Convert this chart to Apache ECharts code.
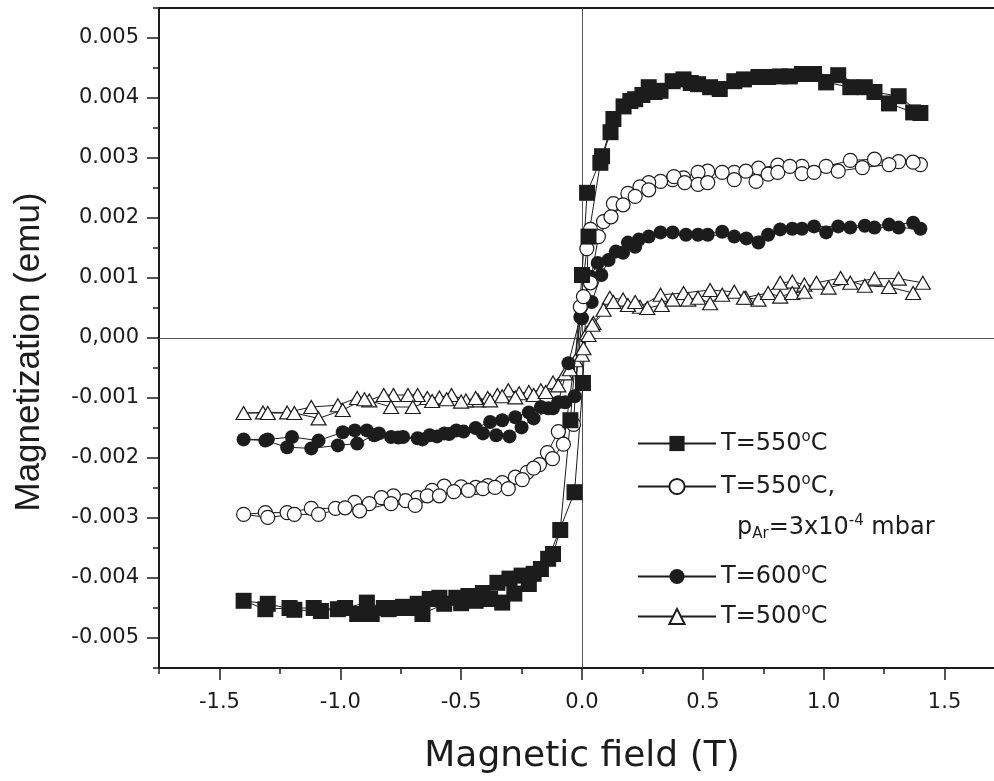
<!DOCTYPE html>
<html><head><meta charset="utf-8">
<script src="https://cdn.jsdelivr.net/npm/echarts@6/dist/echarts.min.js"></script>
<style>html,body{margin:0;padding:0;background:#fff}#c{width:994px;height:781px}</style>
</head><body><div id="c"></div>
<script>
// ---- data (x in T, y in 10^-3 emu) ----
const seriesNames = ['T=550°C', 'T=550°C, pAr=3x10-4 mbar', 'T=600°C', 'T=500°C'];
const legendLabels = ['T=550{sup|o}C', 'T=550{sup|o}C,', 'T=600{sup|o}C', 'T=500{sup|o}C'];
const legendNote = 'p{sub|Ar}=3x10{sup|-4} mbar';
const xMajorTicks = [-1.5, -1.0, -0.5, 0, 0.5, 1.0, 1.5];
const xMinorTicks = [-1.75, -1.25, -0.75, -0.25, 0.25, 0.75, 1.25, 1.75];
const yMajorTicks = [-5, -4, -3, -2, -1, 0, 1, 2, 3, 4, 5];
const yMinorTicks = [-5.5, -4.5, -3.5, -2.5, -1.5, -0.5, 0.5, 1.5, 2.5, 3.5, 4.5, 5.5];

// T=550°C (filled squares): descending then ascending branch
const sq550Desc = [[1.40,3.75],[1.31,4.03],[1.21,4.10],[1.11,4.18],[1.01,4.26],[0.91,4.40],[0.82,4.36],[0.73,4.35],[0.63,4.28],[0.53,4.18],[0.45,4.25],[0.375,4.28],[0.30,4.10],[0.25,4.05],[0.20,3.95],[0.13,3.65],[0.083,3.03],[0.021,2.42],[0.0,1.05],[-0.048,-1.37],[-0.09,-3.20],[-0.12,-3.60],[-0.17,-3.85],[-0.20,-3.93],[-0.25,-3.96],[-0.30,-4.01],[-0.35,-4.08],[-0.41,-4.25],[-0.47,-4.30],[-0.52,-4.33],[-0.59,-4.33],[-0.63,-4.35],[-0.68,-4.43],[-0.72,-4.50],[-0.77,-4.50],[-0.82,-4.50],[-0.89,-4.41],[-0.98,-4.50],[-1.08,-4.55],[-1.19,-4.53],[-1.30,-4.43],[-1.40,-4.38]];
const sq550Asc = [[-1.31,-4.52],[-1.21,-4.50],[-1.11,-4.50],[-1.01,-4.52],[-0.93,-4.60],[-0.87,-4.60],[-0.80,-4.52],[-0.74,-4.48],[-0.66,-4.60],[-0.57,-4.43],[-0.50,-4.42],[-0.44,-4.38],[-0.38,-4.35],[-0.33,-4.41],[-0.28,-4.26],[-0.22,-4.10],[-0.14,-3.68],[-0.031,-2.57],[0.004,-0.75],[0.027,1.69],[0.076,2.92],[0.118,3.43],[0.172,3.86],[0.22,3.98],[0.276,4.18],[0.325,4.12],[0.42,4.31],[0.48,4.23],[0.57,4.15],[0.67,4.31],[0.77,4.35],[0.86,4.36],[0.96,4.40],[1.06,4.38],[1.17,4.18],[1.27,3.91],[1.37,3.76]];

// T=550°C, pAr (open circles)
const oc550Desc = [[1.40,2.89],[1.31,2.94],[1.21,2.98],[1.11,2.96],[1.01,2.86],[0.91,2.86],[0.81,2.88],[0.73,2.83],[0.63,2.76],[0.52,2.78],[0.48,2.76],[0.42,2.67],[0.375,2.64],[0.325,2.61],[0.276,2.59],[0.24,2.52],[0.19,2.41],[0.13,2.24],[0.089,1.94],[0.035,1.81],[0.02,1.49],[-0.007,0.52],[-0.035,-1.44],[-0.098,-1.56],[-0.143,-1.91],[-0.176,-2.11],[-0.227,-2.24],[-0.276,-2.32],[-0.33,-2.41],[-0.39,-2.46],[-0.44,-2.49],[-0.50,-2.48],[-0.57,-2.47],[-0.62,-2.54],[-0.68,-2.66],[-0.73,-2.71],[-0.78,-2.63],[-0.83,-2.66],[-0.88,-2.76],[-0.94,-2.74],[-1.02,-2.84],[-1.12,-2.84],[-1.22,-2.91],[-1.31,-2.91],[-1.40,-2.94]];
const oc550Asc = [[-1.30,-2.99],[-1.19,-2.94],[-1.09,-2.94],[-0.98,-2.83],[-0.92,-2.88],[-0.79,-2.76],[-0.69,-2.79],[-0.64,-2.63],[-0.59,-2.63],[-0.53,-2.56],[-0.47,-2.54],[-0.41,-2.51],[-0.36,-2.49],[-0.305,-2.51],[-0.247,-2.36],[-0.20,-2.17],[-0.122,-2.01],[-0.077,-1.77],[0.006,0.69],[0.035,0.92],[0.068,1.69],[0.12,2.02],[0.17,2.22],[0.22,2.36],[0.276,2.47],[0.38,2.69],[0.425,2.59],[0.48,2.56],[0.52,2.59],[0.58,2.76],[0.63,2.64],[0.678,2.78],[0.72,2.61],[0.77,2.73],[0.81,2.76],[0.86,2.86],[0.91,2.74],[0.96,2.76],[1.06,2.78],[1.16,2.84],[1.27,2.89],[1.37,2.93]];

// T=600°C (filled circles)
const fc600Desc = [[1.40,1.82],[1.31,1.84],[1.21,1.84],[1.11,1.84],[1.01,1.76],[0.91,1.82],[0.82,1.81],[0.73,1.59],[0.63,1.69],[0.52,1.72],[0.43,1.72],[0.375,1.76],[0.276,1.69],[0.235,1.64],[0.19,1.59],[0.14,1.44],[0.065,1.25],[0.035,1.02],[-0.007,0.35],[-0.056,-0.42],[-0.098,-1.07],[-0.14,-1.17],[-0.17,-1.15],[-0.22,-1.24],[-0.276,-1.32],[-0.33,-1.37],[-0.38,-1.40],[-0.44,-1.50],[-0.52,-1.54],[-0.57,-1.59],[-0.63,-1.62],[-0.68,-1.67],[-0.74,-1.65],[-0.79,-1.65],[-0.84,-1.59],[-0.89,-1.54],[-0.94,-1.54],[-0.99,-1.57],[-1.09,-1.71],[-1.20,-1.65],[-1.30,-1.69],[-1.40,-1.69]];
const fc600Asc = [[-1.31,-1.71],[-1.22,-1.82],[-1.12,-1.84],[-1.01,-1.79],[-0.93,-1.76],[-0.86,-1.62],[-0.76,-1.66],[-0.66,-1.69],[-0.60,-1.64],[-0.55,-1.60],[-0.49,-1.56],[-0.41,-1.59],[-0.355,-1.62],[-0.30,-1.64],[-0.25,-1.49],[-0.20,-1.34],[-0.12,-1.17],[-0.07,-1.07],[-0.03,-0.97],[0.0,0.33],[0.04,0.60],[0.08,1.05],[0.11,1.30],[0.17,1.42],[0.22,1.52],[0.325,1.76],[0.48,1.72],[0.58,1.77],[0.68,1.66],[0.77,1.72],[0.87,1.82],[0.96,1.86],[1.06,1.86],[1.17,1.87],[1.27,1.89],[1.37,1.92]];

// T=500°C (open triangles)
const tr500Desc = [[1.41,0.92],[1.31,0.99],[1.21,0.99],[1.11,0.92],[1.02,0.84],[0.92,0.89],[0.87,0.94],[0.82,0.92],[0.73,0.64],[0.678,0.67],[0.63,0.77],[0.53,0.80],[0.42,0.75],[0.325,0.72],[0.24,0.52],[0.17,0.64],[0.115,0.67],[0.089,0.47],[0.047,0.25],[0.02,0.08],[-0.027,-0.37],[-0.07,-0.59],[-0.12,-0.74],[-0.17,-0.87],[-0.22,-0.90],[-0.26,-0.92],[-0.305,-0.87],[-0.35,-0.95],[-0.39,-1.00],[-0.43,-1.04],[-0.48,-1.04],[-0.54,-0.95],[-0.59,-0.99],[-0.64,-1.00],[-0.68,-0.95],[-0.72,-0.95],[-0.78,-0.95],[-0.82,-0.95],[-0.88,-1.04],[-0.93,-1.00],[-1.01,-1.12],[-1.12,-1.15],[-1.22,-1.24],[-1.32,-1.24],[-1.40,-1.25]];
const tr500Asc = [[-1.30,-1.25],[-1.19,-1.25],[-1.09,-1.34],[-0.99,-1.20],[-0.90,-1.02],[-0.79,-1.15],[-0.70,-1.15],[-0.62,-1.05],[-0.56,-1.02],[-0.50,-1.06],[-0.44,-1.00],[-0.38,-1.04],[-0.33,-0.97],[-0.276,-0.99],[-0.20,-0.95],[-0.15,-0.90],[-0.098,-0.79],[-0.05,-0.52],[0.0,-0.28],[0.006,-0.17],[0.027,0.05],[0.043,0.22],[0.13,0.60],[0.19,0.55],[0.22,0.60],[0.27,0.50],[0.33,0.55],[0.375,0.64],[0.44,0.64],[0.48,0.67],[0.53,0.58],[0.58,0.72],[0.67,0.67],[0.77,0.75],[0.82,0.69],[0.87,0.75],[0.92,0.77],[0.97,0.92],[1.07,1.00],[1.17,0.87],[1.27,0.85],[1.37,0.75]];

// ---- chart ----
const FONT = "'DejaVu Sans', Verdana, sans-serif";
const FONT_V = "'Liberation Sans', Arial, Helvetica, sans-serif";
const INK = '#1c1c1c';
const chart = echarts.init(document.getElementById('c'), null, {renderer: 'canvas'});

function loopSeries(name, desc, asc, symbol, size, filled) {
  return {
    name, type: 'line', data: desc.concat(asc), symbol, symbolSize: size, showSymbol: true,
    animation: false, silent: true, clip: false,
    lineStyle: {color: INK, width: 1},
    itemStyle: {color: filled ? INK : '#ffffff', borderColor: INK, borderWidth: filled ? 0 : 1.2},
    emphasis: {disabled: true}
  };
}

const richSup = {
  sup: {fontFamily: FONT, fontSize: 15, color: INK, padding: [0, 0, 12, 0]},
  sub: {fontFamily: FONT, fontSize: 14, color: INK, padding: [14, 0, 0, 0]}
};
const legendTops = [430, 473, 563, 603];

const yFmt = v => (v === 0 ? '0,000' : (v / 1000).toFixed(3));

const option = {
  backgroundColor: '#ffffff',
  animation: false,
  textStyle: {fontFamily: FONT},
  grid: {left: 159, right: -11, top: 8, bottom: 113, show: true, borderColor: INK, borderWidth: 2, backgroundColor: 'transparent', outerBoundsMode: 'none', containLabel: false},
  xAxis: [
    {
      type: 'value', min: -1.75, max: 1.75, position: 'bottom',
      name: 'Magnetic field (T)', nameLocation: 'middle', nameGap: 71,
      nameTextStyle: {fontFamily: FONT, fontSize: 36, color: INK},
      axisLine: {show: true, onZero: false, lineStyle: {color: INK, width: 2}},
      axisTick: {show: true, customValues: xMajorTicks, length: 12, lineStyle: {color: INK, width: 1.5}},
      axisLabel: {show: true, customValues: xMajorTicks, margin: 24, fontFamily: FONT, fontSize: 21, color: INK, formatter: v => v.toFixed(1)},
      splitLine: {show: false}
    },
    {
      type: 'value', min: -1.75, max: 1.75, position: 'bottom',
      axisLine: {show: false, onZero: false},
      axisTick: {show: true, customValues: xMinorTicks, length: 6, lineStyle: {color: INK, width: 1.5}},
      axisLabel: {show: false}, splitLine: {show: false}
    }
  ],
  yAxis: [
    {
      type: 'value', min: -5.5, max: 5.5, position: 'left',
      name: 'Magnetization (emu)', nameLocation: 'middle', nameGap: 112, nameRotate: 90,
      nameTextStyle: {fontFamily: FONT_V, fontSize: 35, color: INK, padding: [0, 28, 0, 0]},
      axisLine: {show: true, onZero: false, lineStyle: {color: INK, width: 2}},
      axisTick: {show: true, customValues: yMajorTicks, length: 12, lineStyle: {color: INK, width: 1.5}},
      axisLabel: {show: true, customValues: yMajorTicks, margin: 20, fontFamily: FONT, fontSize: 21, color: INK, formatter: yFmt},
      splitLine: {show: false}
    },
    {
      type: 'value', min: -5.5, max: 5.5, position: 'left',
      axisLine: {show: false, onZero: false},
      axisTick: {show: true, customValues: yMinorTicks, length: 6, lineStyle: {color: INK, width: 1.5}},
      axisLabel: {show: false}, splitLine: {show: false}
    }
  ],
  legend: seriesNames.map((n, i) => ({
    data: [n], orient: 'vertical', left: 637, top: legendTops[i], padding: 0,
    itemWidth: 78, itemHeight: 19, itemGap: 0, selectedMode: false,
    formatter: () => legendLabels[i],
    textStyle: {fontFamily: FONT, fontSize: 24, color: INK, rich: richSup}
  })),
  graphic: [{
    type: 'text', left: 737, top: 514, silent: true,
    style: {
      text: legendNote, fontFamily: FONT, fontSize: 24, fill: INK,
      rich: {
        sup: {fontFamily: FONT, fontSize: 15, fill: INK, padding: [0, 0, 12, 0]},
        sub: {fontFamily: FONT, fontSize: 15, fill: INK, padding: [14, 0, 0, 0]}
      }
    }
  }],
  series: [
    {
      name: 'zero-lines', type: 'line', data: [], silent: true, z: 1,
      markLine: {silent: true, symbol: 'none', z: 1, animation: false, label: {show: false},
        lineStyle: {color: '#555', width: 1, type: 'solid'}, emphasis: {disabled: true},
        data: [{xAxis: 0}, {yAxis: 0}]}
    },
    loopSeries(seriesNames[3], tr500Desc, tr500Asc, 'triangle', [15, 13], false),
    loopSeries(seriesNames[2], fc600Desc, fc600Asc, 'circle', 14, true),
    loopSeries(seriesNames[1], oc550Desc, oc550Asc, 'circle', 14, false),
    loopSeries(seriesNames[0], sq550Desc, sq550Asc, 'rect', 16, true)
  ]
};
chart.setOption(option);
</script>
</body></html>
